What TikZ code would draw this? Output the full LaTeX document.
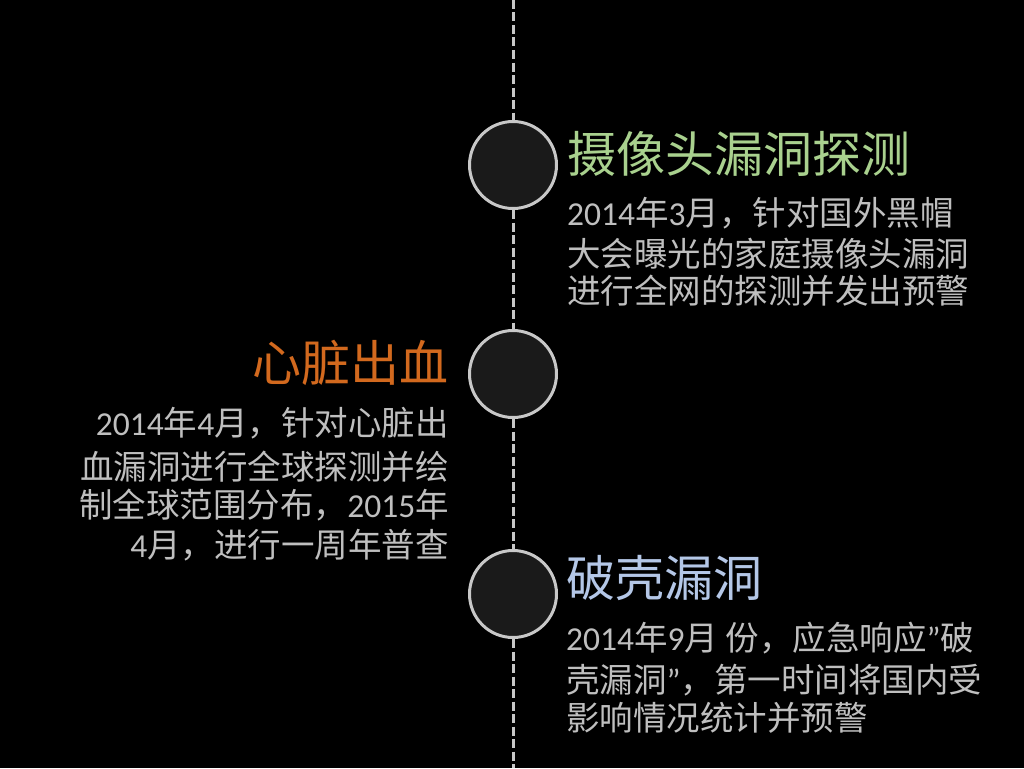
\documentclass[tikz,border=0pt]{standalone}
\usepackage{fontspec}
\setmainfont{Noto Sans CJK SC}
\newfontfamily\lat{Carlito}
\definecolor{bodygray}{HTML}{BFBFBF}
\definecolor{titlegreen}{HTML}{A9D18E}
\definecolor{titleorange}{HTML}{D2691E}
\definecolor{titleblue}{HTML}{B4C7E7}
\definecolor{ringgray}{HTML}{C8C8C8}
\definecolor{dotfill}{HTML}{1A1A1A}
\begin{document}
\begin{tikzpicture}[x=1pt,y=-1pt,
  dot/.style={circle,draw=ringgray,line width=3pt,fill=dotfill,minimum size=87pt,inner sep=0pt},
  spine/.style={draw=ringgray,line width=3pt,dash pattern=on 9pt off 3.5pt},
  ttl/.style={inner sep=0pt,font=\fontsize{49}{55}\selectfont},
  bodyl/.style={inner sep=0pt,text=bodygray,font=\fontsize{33.5}{40}\selectfont,anchor=base west},
  bodyr/.style={inner sep=0pt,text=bodygray,font=\fontsize{33.5}{40}\selectfont,anchor=base east}]
\fill[black] (0,0) rectangle (1024,768);
\useasboundingbox (0,0) rectangle (1024,768);
\coordinate (top) at (513,0);
\coordinate (bot) at (513,768);
\node[dot] (c1) at (513,165) {};
\node[dot] (c2) at (513,374) {};
\node[dot] (c3) at (513,594) {};
\draw[spine] (top) -- (c1.north);
\draw[spine] (c1.south) -- (c2.north);
\draw[spine] (c2.south) -- (c3.north);
\draw[spine] (c3.south) -- (bot);
% block 1
\node[ttl,text=titlegreen,anchor=base west] (t1) at (567,172) {摄像头漏洞探测};
\node[bodyl] (b1a) at (567,225) {{\lat 2014}年{\lat 3}月，针对国外黑帽};
\node[bodyl] (b1b) at (567,266) {大会曝光的家庭摄像头漏洞};
\node[bodyl] (b1c) at (567,303) {进行全网的探测并发出预警};
% block 2
\node[ttl,text=titleorange,anchor=base east] (t2) at (449,381) {心脏出血};
\node[bodyr] (b2a) at (449,435) {{\lat 2014}年{\lat 4}月，针对心脏出};
\node[bodyr] (b2b) at (449,479) {血漏洞进行全球探测并绘};
\node[bodyr] (b2c) at (449,517) {制全球范围分布，{\lat 2015}年};
\node[bodyr] (b2d) at (449,557) {{\lat 4}月，进行一周年普查};
% block 3
\node[ttl,text=titleblue,anchor=base west] (t3) at (566,596) {破壳漏洞};
\node[bodyl] (b3a) at (566,650) {{\lat 2014}年{\lat 9}月 份，应急响应{\lat ”}破};
\node[bodyl] (b3b) at (566,692) {壳漏洞{\lat ”}，第一时间将国内受};
\node[bodyl] (b3c) at (566,730) {影响情况统计并预警};
\end{tikzpicture}
\end{document}
